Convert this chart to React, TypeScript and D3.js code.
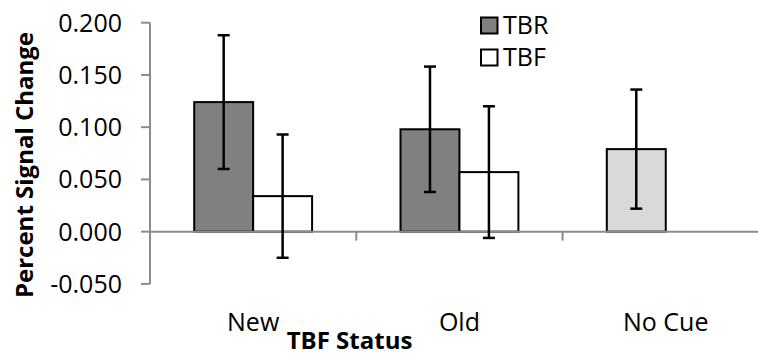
import React from "react";
import * as d3 from "d3";

// Percent signal change by TBF status, TBR vs TBF cues (mean ± SE)
const categories = ["New", "Old", "No Cue"];
const seriesNames = ["TBR", "TBF"];
const tbrValues: (number | null)[] = [0.124, 0.098, 0.079];
const tbrErrors: (number | null)[] = [0.064, 0.060, 0.057];
const tbfValues: (number | null)[] = [0.034, 0.057, null];
const tbfErrors: (number | null)[] = [0.059, 0.063, null];
const yTicks = [-0.05, 0, 0.05, 0.1, 0.15, 0.2];

const WIDTH = 758;
const HEIGHT = 354;
const FONT = "'Open Sans', Lato, sans-serif";

const seriesFill: Record<string, string> = { TBR: "#808080", TBF: "#ffffff" };
const noCueFill = "#d9d9d9";

export default function App() {
  const x0 = 150;
  const band = 206.3;
  const x = d3
    .scaleBand<string>()
    .domain(categories)
    .range([x0, x0 + band * categories.length])
    .paddingInner(0)
    .paddingOuter(0);
  const xs = d3
    .scaleBand<string>()
    .domain(seriesNames)
    .range([0, x.bandwidth()])
    .paddingInner(0)
    .paddingOuter(0.75);
  const y = d3.scaleLinear().domain([-0.05, 0.2]).range([283.9, 22.7]);
  const fmt = (v: number) => d3.format(".3f")(v).replace("\u2212", "-");

  const rows = categories.flatMap((c, i) => [
    { cat: c, s: "TBR", v: tbrValues[i], e: tbrErrors[i] },
    { cat: c, s: "TBF", v: tbfValues[i], e: tbfErrors[i] },
  ]).filter((r) => r.v !== null) as { cat: string; s: string; v: number; e: number }[];

  const axisColor = "#8c8c8c";
  const xRight = WIDTH;

  return (
    <svg
      width={WIDTH}
      height={HEIGHT}
      style={{ position: "absolute", left: 0, top: 0, background: "#fff" }}
      fontFamily={FONT}
    >
      {/* y axis */}
      <line x1={x0} x2={x0} y1={y(0.2)} y2={y(-0.05)} stroke={axisColor} strokeWidth={2} />
      {yTicks.map((t) => (
        <g key={t}>
          <line x1={x0 - 9} x2={x0} y1={y(t)} y2={y(t)} stroke={axisColor} strokeWidth={2} />
          <text
            x={122}
            y={y(t)}
            dy="0.36em"
            textAnchor="end"
            fontSize={25}
            fill="#000"
          >
            {fmt(t)}
          </text>
        </g>
      ))}

      {/* bars */}
      {rows.map((r) => {
        const bx = (x(r.cat) as number) + (xs(r.s) as number);
        const w = xs.bandwidth();
        const fill = r.cat === "No Cue" ? noCueFill : seriesFill[r.s];
        return (
          <rect
            key={r.cat + r.s}
            x={bx}
            y={y(Math.max(0, r.v))}
            width={w}
            height={Math.abs(y(r.v) - y(0))}
            fill={fill}
            stroke="#000"
            strokeWidth={2}
          />
        );
      })}

      {/* x axis */}
      <line x1={x0} x2={xRight} y1={y(0)} y2={y(0)} stroke={axisColor} strokeWidth={2} />
      {categories.slice(1).map((c) => (
        <line
          key={c}
          x1={x(c) as number}
          x2={x(c) as number}
          y1={y(0)}
          y2={y(0) + 9}
          stroke={axisColor}
          strokeWidth={2}
        />
      ))}

      {/* error bars */}
      {rows.map((r) => {
        const cx = (x(r.cat) as number) + (xs(r.s) as number) + xs.bandwidth() / 2;
        const hi = y(r.v + r.e);
        const lo = y(r.v - r.e);
        return (
          <g key={"e" + r.cat + r.s} stroke="#000" strokeWidth={2.5}>
            <line x1={cx} x2={cx} y1={hi} y2={lo} />
            <line x1={cx - 6} x2={cx + 6} y1={hi} y2={hi} />
            <line x1={cx - 6} x2={cx + 6} y1={lo} y2={lo} />
          </g>
        );
      })}

      {/* category labels */}
      {categories.map((c) => (
        <text
          key={c}
          x={(x(c) as number) + x.bandwidth() / 2}
          y={330.5}
          textAnchor="middle"
          fontSize={25}
          fill="#000"
        >
          {c}
        </text>
      ))}

      {/* axis titles */}
      <text x={349.5} y={349} textAnchor="middle" fontSize={24} fontWeight="bold" fill="#000">
        TBF Status
      </text>
      <text
        transform={`translate(32.5,165) rotate(-90)`}
        textAnchor="middle"
        fontSize={24}
        fontWeight="bold"
        fill="#000"
      >
        Percent Signal Change
      </text>

      {/* legend */}
      {seriesNames.map((s, i) => (
        <g key={s} transform={`translate(481,${17.5 + i * 32})`}>
          <rect x={0} y={0} width={16.5} height={16} fill={seriesFill[s]} stroke="#000" strokeWidth={2} />
          <text x={22} y={16} fontSize={25} fill="#000">
            {s}
          </text>
        </g>
      ))}
    </svg>
  );
}
